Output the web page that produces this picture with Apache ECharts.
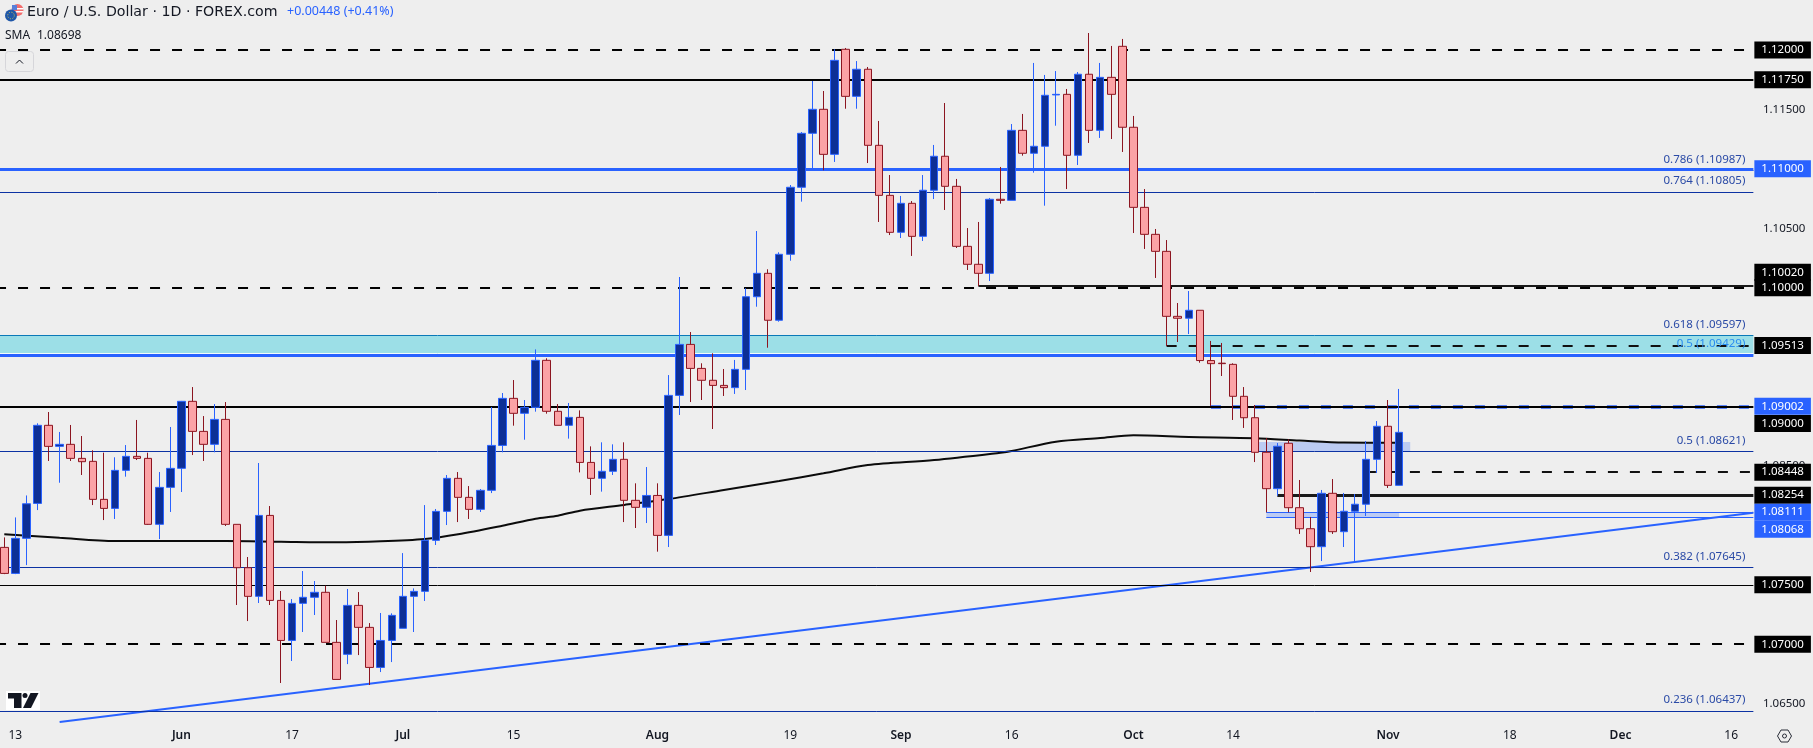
<!DOCTYPE html>
<html>
<head>
<meta charset="utf-8">
<title>EUR/USD 1D</title>
<script src="https://cdn.jsdelivr.net/npm/echarts@6/dist/echarts.min.js"></script>
<style>
  html, body { margin: 0; padding: 0; background: #eeeeee; }
  #main { width: 1813px; height: 748px; }
</style>
</head>
<body>
<div id="main"></div>
<script>
// ── candles, 2024-05-10 to 2024-11-04 ──
const opens = [
  1.07815, 1.07596, 1.07891, 1.08185, 1.08842, 1.08665, 1.08682, 1.08564, 1.08539, 1.08219,
  1.08143, 1.08463, 1.08581, 1.08564, 1.08009, 1.08320, 1.08480, 1.09044, 1.08791, 1.08682,
  1.08892, 1.08009, 1.07644, 1.07403, 1.08084, 1.07369, 1.07032, 1.07344, 1.07395, 1.07437,
  1.07016, 1.06915, 1.07327, 1.07142, 1.06805, 1.07032, 1.07134, 1.07403, 1.07445, 1.07874,
  1.08118, 1.08396, 1.08236, 1.08135, 1.08295, 1.08673, 1.09069, 1.08943, 1.08993, 1.09389,
  1.08960, 1.08842, 1.08909, 1.08530, 1.08396, 1.08455, 1.08556, 1.08211, 1.08152, 1.08252,
  1.07916, 1.09094, 1.09523, 1.09321, 1.09221, 1.09178, 1.09159, 1.09313, 1.09924, 1.10121,
  1.09726, 1.10281, 1.10845, 1.11299, 1.11501, 1.11122, 1.12006, 1.11610, 1.11838, 1.11198,
  1.10777, 1.10466, 1.10710, 1.10432, 1.10820, 1.11106, 1.10853, 1.10348, 1.10197, 1.10121,
  1.10744, 1.10735, 1.11324, 1.11131, 1.11190, 1.11622, 1.11627, 1.11114, 1.11796, 1.11324,
  1.11770, 1.12031, 1.11350, 1.10676, 1.10449, 1.10306, 1.09759, 1.09743, 1.09810, 1.09387,
  1.09365, 1.09355, 1.09086, 1.08906, 1.08615, 1.08309, 1.08691, 1.08149, 1.07972, 1.07821,
  1.08270, 1.07947, 1.08119, 1.08178, 1.08556, 1.08834, 1.08337,
];
const closes = [
  1.07596, 1.07891, 1.08182, 1.08842, 1.08665, 1.08682, 1.08564, 1.08536, 1.08219, 1.08143,
  1.08463, 1.08581, 1.08564, 1.08009, 1.08320, 1.08480, 1.09044, 1.08791, 1.08682, 1.08892,
  1.08009, 1.07644, 1.07403, 1.08084, 1.07369, 1.07032, 1.07344, 1.07395, 1.07437, 1.07016,
  1.06704, 1.07327, 1.07142, 1.06805, 1.07032, 1.07243, 1.07403, 1.07445, 1.07874, 1.08118,
  1.08396, 1.08236, 1.08135, 1.08295, 1.08673, 1.09069, 1.08943, 1.08993, 1.09389, 1.08960,
  1.08842, 1.08909, 1.08530, 1.08396, 1.08455, 1.08556, 1.08211, 1.08152, 1.08252, 1.07916,
  1.09094, 1.09523, 1.09321, 1.09221, 1.09178, 1.09159, 1.09313, 1.09924, 1.10121, 1.09726,
  1.10281, 1.10845, 1.11299, 1.11501, 1.11122, 1.11913, 1.11610, 1.11838, 1.11198, 1.10777,
  1.10466, 1.10710, 1.10432, 1.10820, 1.11106, 1.10853, 1.10348, 1.10197, 1.10121, 1.10744,
  1.10735, 1.11324, 1.11131, 1.11190, 1.11619, 1.11627, 1.11114, 1.11796, 1.11324, 1.11770,
  1.11627, 1.11350, 1.10676, 1.10449, 1.10306, 1.09759, 1.09743, 1.09810, 1.09387, 1.09361,
  1.09361, 1.09086, 1.08906, 1.08615, 1.08309, 1.08666, 1.08149, 1.07972, 1.07821, 1.08270,
  1.07947, 1.08119, 1.08178, 1.08556, 1.08834, 1.08337, 1.08783,
];
const lows = [
  1.07590, 1.07590, 1.07666, 1.08129, 1.08542, 1.08359, 1.08542, 1.08424, 1.08171, 1.08045,
  1.08054, 1.08410, 1.08550, 1.08005, 1.07885, 1.08113, 1.08281, 1.08592, 1.08542, 1.08615,
  1.07995, 1.07330, 1.07195, 1.07347, 1.07330, 1.06674, 1.06859, 1.07103, 1.07246, 1.07016,
  1.06704, 1.06833, 1.06909, 1.06657, 1.06766, 1.06850, 1.07134, 1.07103, 1.07364, 1.07835,
  1.08003, 1.08028, 1.08054, 1.08113, 1.08272, 1.08615, 1.08839, 1.08721, 1.08957, 1.08940,
  1.08842, 1.08730, 1.08446, 1.08256, 1.08284, 1.08424, 1.08028, 1.07978, 1.08020, 1.07779,
  1.07818, 1.08929, 1.09038, 1.09055, 1.08811, 1.09089, 1.09106, 1.09139, 1.09840, 1.09495,
  1.09714, 1.10227, 1.10724, 1.11005, 1.10988, 1.11058, 1.11506, 1.11506, 1.11049, 1.10553,
  1.10443, 1.10418, 1.10267, 1.10393, 1.10746, 1.10654, 1.10334, 1.10149, 1.10014, 1.10056,
  1.10707, 1.10735, 1.11111, 1.10968, 1.10690, 1.11363, 1.10830, 1.11032, 1.11218, 1.11260,
  1.11251, 1.11142, 1.10460, 1.10326, 1.10082, 1.09509, 1.09543, 1.09610, 1.09369, 1.09005,
  1.09257, 1.08887, 1.08820, 1.08533, 1.08110, 1.08250, 1.08110, 1.07928, 1.07608, 1.07700,
  1.07928, 1.07818, 1.07692, 1.08079, 1.08441, 1.08315, 1.08337,
];
const highs = [
  1.07899, 1.08067, 1.08252, 1.08859, 1.08954, 1.08786, 1.08845, 1.08752, 1.08632, 1.08612,
  1.08573, 1.08676, 1.08887, 1.08612, 1.08449, 1.08828, 1.09047, 1.09164, 1.08920, 1.09021,
  1.09038, 1.08009, 1.07734, 1.08525, 1.08163, 1.07448, 1.07380, 1.07616, 1.07532, 1.07493,
  1.07204, 1.07465, 1.07439, 1.07178, 1.07263, 1.07260, 1.07767, 1.07470, 1.08171, 1.08138,
  1.08424, 1.08449, 1.08331, 1.08306, 1.08996, 1.09114, 1.09223, 1.09055, 1.09481, 1.09406,
  1.09021, 1.09030, 1.08968, 1.08665, 1.08699, 1.08682, 1.08699, 1.08354, 1.08491, 1.08354,
  1.09265, 1.10090, 1.09627, 1.09364, 1.09448, 1.09316, 1.09392, 1.09995, 1.10477, 1.10155,
  1.10298, 1.10864, 1.11310, 1.11739, 1.11655, 1.12006, 1.12017, 1.11907, 1.11857, 1.11403,
  1.10948, 1.10772, 1.10729, 1.10948, 1.11201, 1.11554, 1.10915, 1.10502, 1.10553, 1.10755,
  1.11016, 1.11377, 1.11462, 1.11891, 1.11790, 1.11823, 1.11672, 1.11815, 1.12143, 1.11891,
  1.12034, 1.12093, 1.11445, 1.10830, 1.10494, 1.10401, 1.09871, 1.09972, 1.09810, 1.09552,
  1.09535, 1.09364, 1.09164, 1.09013, 1.08735, 1.08693, 1.08724, 1.08382, 1.08071, 1.08298,
  1.08390, 1.08273, 1.08264, 1.08710, 1.08878, 1.09055, 1.09148,
];

// ── SMA, read at a set of candle positions ──
const smaBars = [0, 5, 10, 20, 25, 30, 34, 38, 41, 45, 48, 50, 52, 56, 60, 65, 70, 74, 78, 84, 90, 91, 95, 99, 102, 107, 113, 117, 121, 126];
const smaValues = [
  1.07925, 1.07896, 1.07869, 1.07869, 1.07863, 1.07858, 1.07866, 1.07886, 1.07925, 1.07997,
  1.08056, 1.08082, 1.08124, 1.08172, 1.08222, 1.08298, 1.08374, 1.08438, 1.08508, 1.08550,
  1.08612, 1.08626, 1.08704, 1.08735, 1.08758, 1.08744, 1.08733, 1.08714, 1.08697, 1.08696,
];

// ── time axis labels ──
const tickBars = [1, 16, 26, 36, 46, 59, 71, 81, 91, 102, 111, 125, 136, 146, 156];
const tickLabels = ["13", "Jun", "17", "Jul", "15", "Aug", "19", "Sep", "16", "Oct", "14", "Nov", "18", "Dec", "16"];
const priceTicks = [1.065, 1.085, 1.105, 1.115];

// ── horizontal levels ──
const dashedBlack = [1.12, 1.10, 1.07];
const solidBlack = [1.1175, 1.09];
const thinBlack = [1.075];
const thickBlue = [1.11];
const fibRatios = ["0.786", "0.764", "0.618", "0.5", "0.5", "0.382", "0.236"];
const fibPrices = [1.10987, 1.10805, 1.09597, 1.09429, 1.08621, 1.07645, 1.06437];

// drawn from a given candle to the right edge
const swingHigh = [1.10020];       const swingHighFrom = [88];
const swingDash = [1.09513, 1.08448]; const swingDashFrom = [105, 123];
const swingThick = [1.08254];      const swingThickFrom = [115];
const blueDash = [1.09002];        const blueDashFrom = [109];
const blueThin = [1.08111, 1.08068]; const blueThinFrom = [114, 114];

const bandLow = 1.09429;
const bandHigh = 1.09597;
const bandEdge = [1.09446];
const zoneUpper = [1.08702, 1.08626]; const zoneUpperBars = [113, 127];
const zoneLower = [1.08110, 1.08071]; const zoneLowerBars = [114, 126];

// trendline: two anchors
const trendBars = [5, 158];
const trendPrices = [1.06346, 1.08107];

// ── layout of the slots: one lead slot off-screen, then a slot per bar ──
const SLOTS = 160;
const LAST_SLOT = SLOTS - 1;
const slotOf = (bar) => bar + 1;

const FONT = '"Noto Sans", sans-serif';
const TITLE_FONT = '"DejaVu Sans", sans-serif';
const BLUE = "#2962ff";
const FIB_BLUE = "#0c32a3";
const TEXT = "#131722";

const categories = new Array(SLOTS).fill("");
tickBars.forEach((b, k) => { categories[slotOf(b)] = tickLabels[k]; });

const candleData = opens.map((o, i) => [slotOf(i), o, closes[i], lows[i], highs[i]]);
const smaData = smaBars.map((b, k) => [slotOf(b), smaValues[k]]);
const trendData = trendBars.map((b, k) => [slotOf(b), trendPrices[k]]);

// tags pushed off their line so they don't overlap
const tagShift = { "1.10020": -13, "1.09000": 17, "1.08068": 12 };

function tagLabel(price, color) {
  const text = price.toFixed(5);
  return {
    show: true,
    position: "end",
    distance: 1,
    formatter: text,
    color: "#ffffff",
    backgroundColor: color,
    fontFamily: FONT,
    fontSize: 11.5,
    lineHeight: 13,
    padding: [2, 7, 2, 7],
    offset: [0, tagShift[text] || 0],
  };
}

function levelSeries(prices, froms, lineStyle, tagColor) {
  return {
    type: "line",
    data: [],
    z: 2,
    silent: true,
    markLine: {
      silent: true,
      symbol: "none",
      animation: false,
      lineStyle,
      data: prices.map((p, k) => [
        {
          coord: [froms ? slotOf(froms[k]) : 0, p],
          label: tagColor ? tagLabel(p, tagColor) : { show: false },
        },
        { coord: [LAST_SLOT, p] },
      ]),
    },
  };
}

function fibSeries() {
  return {
    type: "line",
    data: [],
    z: 3,
    silent: true,
    markLine: {
      silent: true,
      symbol: "none",
      animation: false,
      data: fibPrices.map((p, k) => {
        const inBand = p === bandLow;
        const onBand = p === bandHigh;
        return [
          {
            coord: [0, p],
            lineStyle: {
              color: inBand ? BLUE : onBand ? "#0a79b8" : FIB_BLUE,
              width: inBand ? 3 : 1,
              type: "solid",
            },
            label: {
              show: true,
              position: "insideEndTop",
              distance: [8, inBand ? 6 : 5],
              formatter: `${fibRatios[k]} (${p.toFixed(5)})`,
              color: inBand ? "#2a8cf0" : "#2a4aa6",
              fontFamily: FONT,
              fontSize: 11.5,
            },
          },
          { coord: [LAST_SLOT, p] },
        ];
      }),
    },
  };
}

function zoneSeries(prices, bars) {
  return {
    type: "line",
    data: [],
    z: 1,
    silent: true,
    markArea: {
      silent: true,
      animation: false,
      itemStyle: { color: "rgba(41,98,255,0.25)" },
      data: [[
        { coord: [slotOf(bars[0]), prices[0]] },
        { coord: [slotOf(bars[1]), prices[1]] },
      ]],
    },
  };
}

const chart = echarts.init(document.getElementById("main"));

chart.setOption({
  animation: false,
  backgroundColor: "#eeeeee",
  grid: { left: -12.305, top: 0, width: 1771.2, height: 722, containLabel: false, outerBoundsMode: "none" },
  xAxis: {
    type: "category",
    data: categories,
    boundaryGap: true,
    axisLine: { show: false },
    axisTick: { show: false },
    splitLine: { show: false },
    axisLabel: {
      interval: 0,
      hideOverlap: false,
      margin: 8,
      fontFamily: FONT,
      fontSize: 12,
      color: TEXT,
      formatter: (v) => (/^[A-Z]/.test(v) ? `{m|${v}}` : v),
      rich: { m: { fontFamily: FONT, fontSize: 12, fontWeight: 600, color: TEXT } },
    },
  },
  yAxis: {
    type: "value",
    position: "right",
    min: 1.063458,
    max: 1.124207,
    axisLine: { show: false },
    axisTick: { show: false },
    splitLine: { show: false },
    axisLabel: {
      customValues: priceTicks,
      margin: 4,
      fontFamily: FONT,
      fontSize: 11.5,
      color: TEXT,
      formatter: (v) => v.toFixed(5),
    },
  },
  series: [
    {
      // cyan band between the 0.5 and 0.618 fib
      type: "line",
      data: [],
      z: 1,
      silent: true,
      markArea: {
        silent: true,
        animation: false,
        itemStyle: { color: "#9cdfe7" },
        data: [[{ coord: [0, bandLow] }, { coord: [LAST_SLOT, bandHigh] }]],
      },
    },
    zoneSeries(zoneUpper, zoneUpperBars),
    zoneSeries(zoneLower, zoneLowerBars),
    levelSeries(bandEdge, null, { color: "#f4fbfc", width: 1, type: "solid" }, null),
    fibSeries(),
    levelSeries(thickBlue, null, { color: BLUE, width: 3, type: "solid" }, BLUE),
    levelSeries(blueDash, blueDashFrom, { color: BLUE, width: 3.5, type: [10, 12] }, BLUE),
    levelSeries(solidBlack, null, { color: "#000000", width: 2, type: "solid" }, "#000000"),
    levelSeries(thinBlack, null, { color: "#000000", width: 1, type: "solid" }, "#000000"),
    levelSeries(dashedBlack, null, { color: "#000000", width: 2, type: [10, 12], dashOffset: 19.2 }, "#000000"),
    levelSeries(swingHigh, swingHighFrom, { color: "#1a1a1a", width: 2, type: "solid" }, "#000000"),
    levelSeries(swingDash, swingDashFrom, { color: "#111111", width: 2, type: [10, 12] }, "#000000"),
    levelSeries(swingThick, swingThickFrom, { color: "#1a1a1a", width: 3, type: "solid" }, "#000000"),
    levelSeries(blueThin, blueThinFrom, { color: BLUE, width: 1, type: "solid" }, BLUE),
    {
      name: "Trend",
      type: "line",
      data: trendData,
      z: 3,
      silent: true,
      showSymbol: false,
      symbol: "none",
      lineStyle: { color: BLUE, width: 2 },
    },
    {
      name: "SMA",
      type: "line",
      data: smaData,
      z: 4,
      silent: true,
      smooth: 0.3,
      showSymbol: false,
      symbol: "none",
      lineStyle: { color: "#0b0b0b", width: 2 },
    },
    {
      name: "EURUSD",
      type: "candlestick",
      data: candleData,
      encode: { x: 0, y: [1, 2, 3, 4] },
      z: 5,
      barWidth: 8,
      silent: true,
      itemStyle: {
        color: "#0d2f96",
        color0: "#fba3a6",
        borderColor: BLUE,
        borderColor0: "#8c1520",
        borderWidth: 1,
      },
    },
  ],
  graphic: [
    // header
    { type: "text", left: 27, top: 5, style: { text: "Euro / U.S. Dollar · 1D · FOREX.com", fill: TEXT, font: `14.2px ${TITLE_FONT}` } },
    { type: "text", left: 287, top: 5, style: { text: "+0.00448 (+0.41%)", fill: BLUE, font: `12.5px ${FONT}` } },
    { type: "text", left: 5, top: 30, style: { text: "SMA", fill: TEXT, font: `12px ${FONT}` } },
    { type: "text", left: 37, top: 30, style: { text: "1.08698", fill: TEXT, font: `12px ${FONT}` } },
    // pair icon
    { type: "circle", shape: { cx: 17.5, cy: 10, r: 6 }, style: { fill: "#f26d6d" } },
    { type: "rect", shape: { x: 13, y: 8, width: 10.5, height: 1.5 }, style: { fill: "#ffffff" } },
    { type: "rect", shape: { x: 13, y: 11, width: 10.5, height: 1.5 }, style: { fill: "#ffffff" } },
    { type: "rect", shape: { x: 12, y: 5, width: 5, height: 5 }, style: { fill: "#5a7fd8" } },
    { type: "circle", shape: { cx: 11, cy: 15.5, r: 6 }, style: { fill: "#1f57a8" } },
    { type: "circle", shape: { cx: 11, cy: 15.5, r: 3.3 }, style: { fill: "none", stroke: "#d8c34a", lineWidth: 1, lineDash: [1, 1.6] } },
    // collapse button
    { type: "rect", shape: { x: 5.5, y: 51.5, width: 28, height: 20, r: 3 }, style: { fill: "none", stroke: "#d6d6da", lineWidth: 1 } },
    { type: "polyline", shape: { points: [[16, 63.5], [19.5, 60], [23, 63.5]] }, style: { fill: "none", stroke: TEXT, lineWidth: 1 } },
    // logo
    { type: "rect", shape: { x: 6, y: 691, width: 34, height: 19 }, style: { fill: "#ffffff" } },
    { type: "polygon", shape: { points: [[8, 693], [21.5, 693], [21.5, 708], [14, 708], [14, 698.5], [8, 698.5]] }, style: { fill: TEXT } },
    { type: "circle", shape: { cx: 25, cy: 695.5, r: 2.5 }, style: { fill: TEXT } },
    { type: "polygon", shape: { points: [[30.5, 693], [38.5, 693], [31, 708], [23, 708]] }, style: { fill: TEXT } },
    // settings
    { type: "polygon", shape: { points: [[1777.5, 736], [1781, 730], [1788, 730], [1791.5, 736], [1788, 742], [1781, 742]] }, style: { fill: "none", stroke: "#2a2e39", lineWidth: 1 } },
    { type: "circle", shape: { cx: 1784.5, cy: 736, r: 2 }, style: { fill: "none", stroke: "#2a2e39", lineWidth: 1 } },
  ],
});
</script>
</body>
</html>
